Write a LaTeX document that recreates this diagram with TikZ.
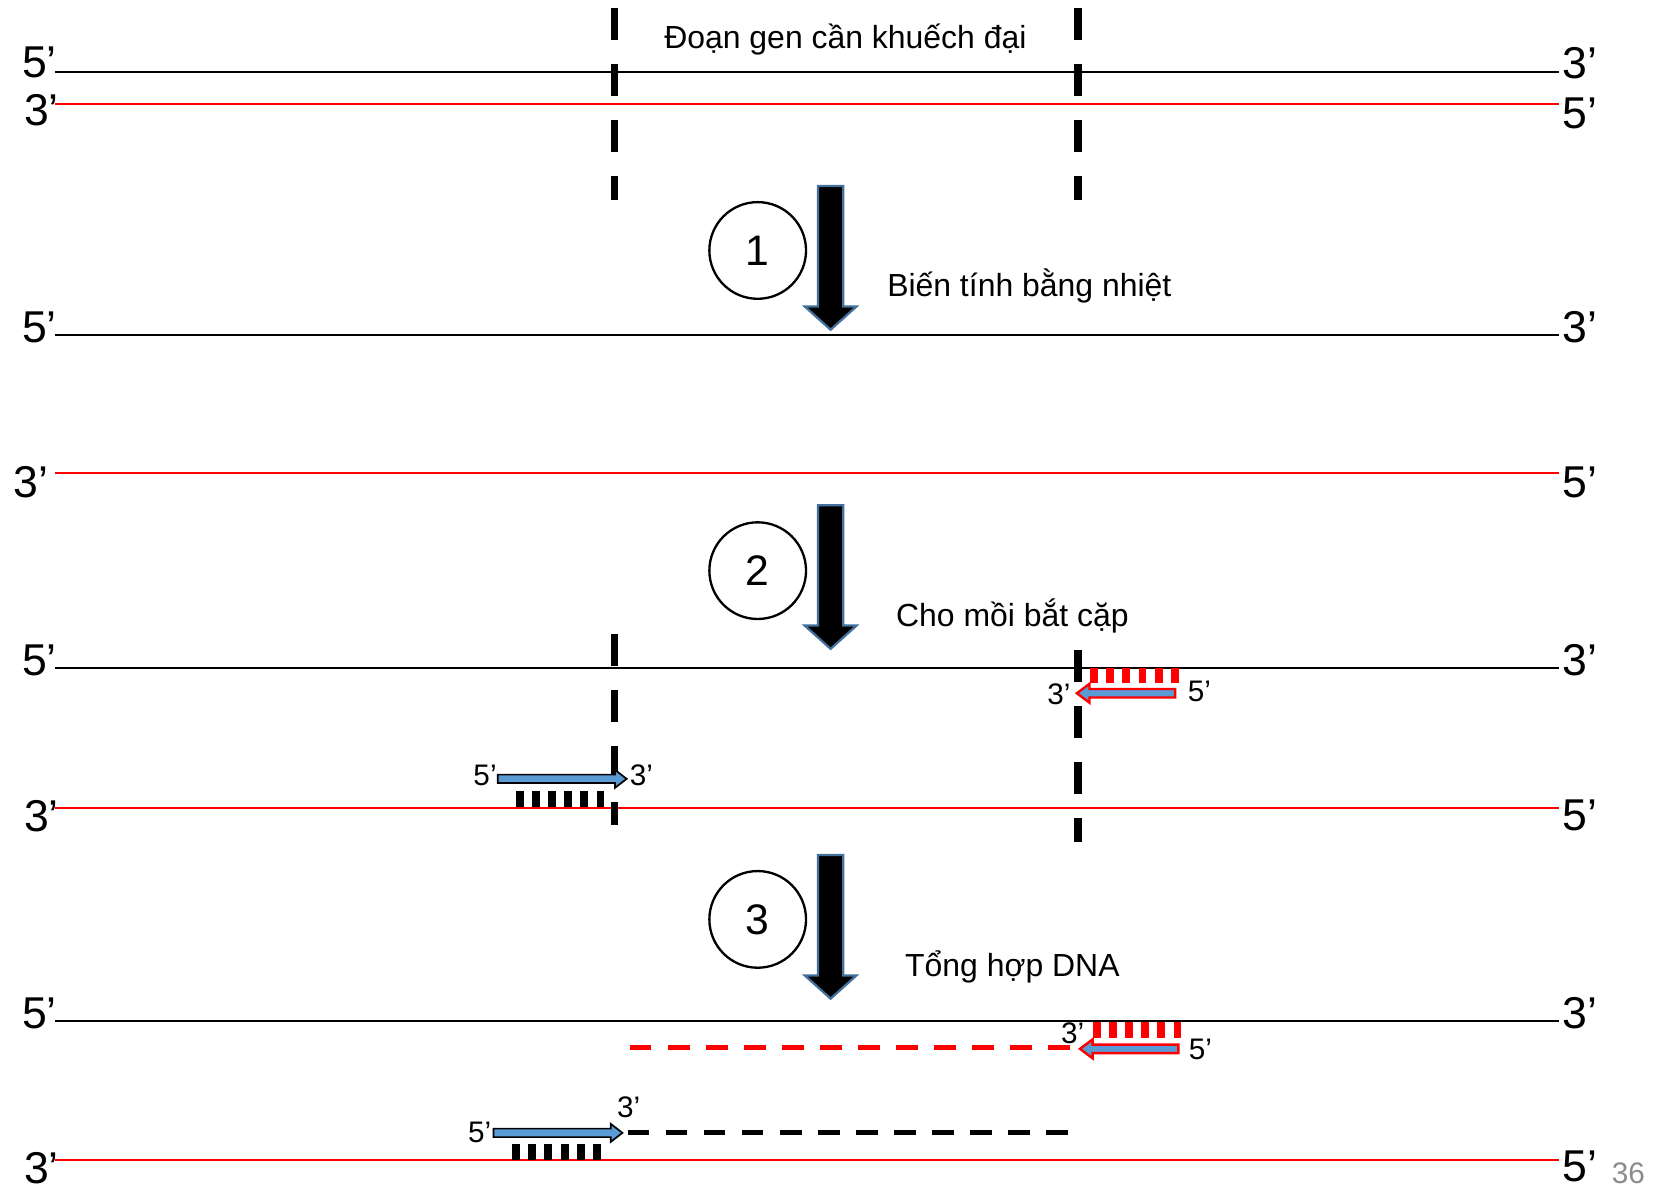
\documentclass[tikz,border=0pt]{standalone}
\usepackage{fontspec}
\setmainfont{Liberation Sans}
\definecolor{arrowblue}{HTML}{41719C}
\definecolor{primblue}{HTML}{5B9BD5}
\definecolor{pgray}{HTML}{8C8C8C}
\begin{document}
\begin{tikzpicture}[x=0.02cm,y=-0.02cm,
  strand/.style={line width=1.1pt,line cap=butt},
  bigl/.style={inner sep=0pt,font=\fontsize{24}{24}\selectfont},
  midl/.style={inner sep=0pt,font=\fontsize{17.2}{19}\selectfont},
  priml/.style={inner sep=0pt,font=\fontsize{16}{16}\selectfont},
  vdash/.style={line width=4pt,dash pattern=on 0.6cm off 0.46cm},
  hdash/.style={line width=3pt,dash pattern=on 0.41cm off 0.31cm},
  numc/.style={circle,draw,line width=1.25pt,minimum size=1.83cm,inner sep=0pt,font=\fontsize{23}{23}\selectfont},
  bigarrow/.pic={\filldraw[fill=black,draw=arrowblue,line width=1.2pt]
     (-12,0) -- (12,0) -- (12,114) -- (24.5,114) -- (0,136) -- (-24.5,114) -- (-12,114) -- cycle;},
  fwdprimer/.pic={\filldraw[fill=primblue,draw=black,line width=0.9pt]
     (0,-4) -- (111,-4) -- (111,-8.5) -- (122,0) -- (111,8.5) -- (111,4) -- (0,4) -- cycle;},
  revprimer/.pic={\filldraw[fill=primblue,draw=red,line width=1.3pt]
     (0,0) -- (12,-9) -- (12,-4) -- (93,-4) -- (93,4) -- (12,4) -- (12,9) -- cycle;},
  blackticks/.pic={\foreach \i in {0,...,5}{\fill[black] (\i*15.3,0) rectangle ++(7.5,15);}},
  redticks/.pic={\foreach \i in {0,...,5}{\fill[red] (\i*15.3,0) rectangle ++(7.5,14.5);}}
]
\useasboundingbox (0,0) rectangle (1568,1126);
\fill[white] (0,0) rectangle (1568,1126);

% ---------- panel 0 ----------
\coordinate (a0s) at (52,68);  \coordinate (a0e) at (1475,68);
\coordinate (b0s) at (52,98);  \coordinate (b0e) at (1475,98);
\draw[strand,black] (a0s) -- (a0e);
\draw[strand,red] (b0s) -- (b0e);
\node[bigl,anchor=east] (L0a) at (54,59) {5’};
\node[bigl,anchor=east] (L0b) at (56,104) {3’};
\node[bigl,anchor=west] (R0a) at (1478,60) {3’};
\node[bigl,anchor=west] (R0b) at (1478,107) {5’};
\coordinate (v1t) at (581.5,7.6); \coordinate (v1b) at (581.5,189);
\coordinate (v2t) at (1020,7.6);  \coordinate (v2b) at (1020,189);
\draw[vdash] (v1t) -- (v1b);
\draw[vdash] (v2t) -- (v2b);
\node[midl,anchor=base] (t0) at (800,46) {Đoạn gen cần khuếch đại};

% ---------- step 1 ----------
\node[numc] (c1) at (717,237) {1};
\pic at (786,176) {bigarrow};
\node[midl,anchor=base] (t1) at (974,281) {Biến tính bằng nhiệt};
\coordinate (a1s) at (52,317);  \coordinate (a1e) at (1475,317);
\coordinate (b1s) at (52,448);  \coordinate (b1e) at (1475,448);
\draw[strand,black] (a1s) -- (a1e);
\draw[strand,red] (b1s) -- (b1e);
\node[bigl,anchor=east] (L1a) at (54,310) {5’};
\node[bigl,anchor=west] (R1a) at (1478,310) {3’};
\node[bigl,anchor=east] (L1b) at (46,456) {3’};
\node[bigl,anchor=west] (R1b) at (1478,456) {5’};

% ---------- step 2 ----------
\node[numc] (c2) at (717,540) {2};
\pic at (786,478) {bigarrow};
\node[midl,anchor=base] (t2) at (958,593) {Cho mồi bắt cặp};
\coordinate (a2s) at (52,632);  \coordinate (a2e) at (1475,632);
\coordinate (b2s) at (52,764.5);  \coordinate (b2e) at (1475,764.5);
\draw[strand,black] (a2s) -- (a2e);
\draw[strand,red] (b2s) -- (b2e);
\node[bigl,anchor=east] (L2a) at (54,625) {5’};
\node[bigl,anchor=west] (R2a) at (1478,625) {3’};
\node[bigl,anchor=east] (L2b) at (56,772) {3’};
\node[bigl,anchor=west] (R2b) at (1478,772) {5’};
\coordinate (v3t) at (581.5,600); \coordinate (v3b) at (581.5,781);
\coordinate (v4t) at (1020,615);  \coordinate (v4b) at (1020,797);
\draw[vdash] (v3t) -- (v3b);
\draw[vdash] (v4t) -- (v4b);
\pic at (1031.5,632) {redticks};
\pic at (1019,656) {revprimer};
\node[priml] (p2r3) at (1002,657) {3’};
\node[priml] (p2r5) at (1135,654) {5’};
\pic at (488,748.5) {blackticks};
\pic at (471,737) {fwdprimer};
\node[priml] (p2f5) at (459,734) {5’};
\node[priml] (p2f3) at (607,734) {3’};

% ---------- step 3 ----------
\node[numc] (c3) at (717,870) {3};
\pic at (786,809) {bigarrow};
\node[midl,anchor=base] (t3) at (958,924) {Tổng hợp DNA};
\coordinate (a3s) at (52,966);  \coordinate (a3e) at (1475,966);
\coordinate (b3s) at (52,1097.5);  \coordinate (b3e) at (1475,1097.5);
\draw[strand,black] (a3s) -- (a3e);
\draw[strand,red] (b3s) -- (b3e);
\node[bigl,anchor=east] (L3a) at (54,959) {5’};
\node[bigl,anchor=west] (R3a) at (1478,959) {3’};
\node[bigl,anchor=east] (L3b) at (56,1105) {3’};
\node[bigl,anchor=west] (R3b) at (1478,1104) {5’};
% new strands
\coordinate (nrs) at (596,991.4); \coordinate (nre) at (1013,991.4);
\draw[hdash,red] (nrs) -- (nre);
\coordinate (nbs) at (594,1071.8); \coordinate (nbe) at (1012,1071.8);
\draw[hdash,black,line width=2.8pt] (nbs) -- (nbe);
\pic at (1034,967.5) {redticks};
\pic at (1022,992.5) {revprimer};
\node[priml] (p3r3) at (1015,978) {3’};
\node[priml] (p3r5) at (1136,993) {5’};
\pic at (484.6,1083) {blackticks};
\pic at (467,1072) {fwdprimer};
\node[priml] (p3f5) at (454,1072) {5’};
\node[priml] (p3f3) at (595,1048) {3’};

% page number
\node[inner sep=0pt,font=\fontsize{16}{16}\selectfont,text=pgray] (pg) at (1541,1110) {36};
\end{tikzpicture}
\end{document}
